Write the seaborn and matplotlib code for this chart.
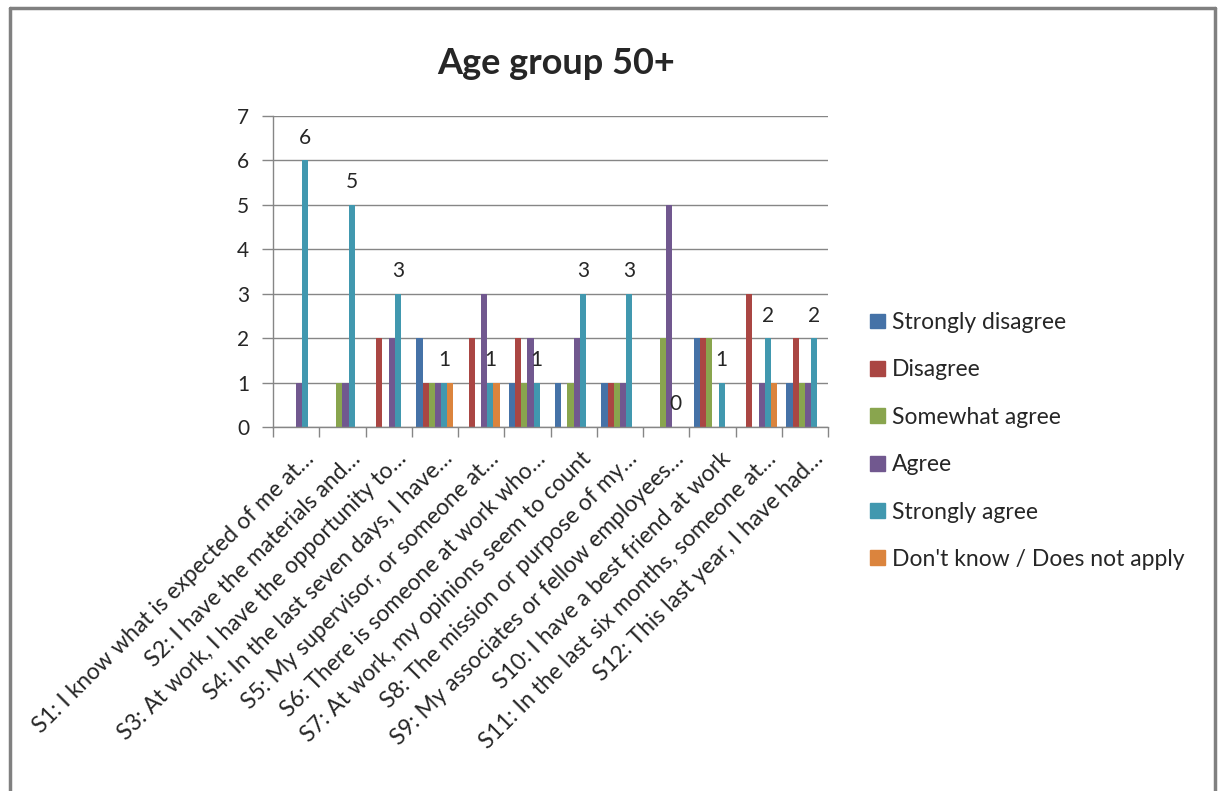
import matplotlib
matplotlib.use("Agg")
import matplotlib.pyplot as plt
import matplotlib.transforms as mtransforms
from matplotlib.lines import Line2D
import seaborn as sns
import pandas as pd

categories = [
    "S1: I know what is expected of me at…",
    "S2: I have the materials and…",
    "S3: At work, I have the opportunity to…",
    "S4: In the last seven days, I have…",
    "S5: My supervisor, or someone at…",
    "S6: There is someone at work who…",
    "S7: At work, my opinions seem to count",
    "S8: The mission or purpose of my…",
    "S9: My associates or fellow employees…",
    "S10: I have a best friend at work",
    "S11: In the last six months, someone at…",
    "S12: This last year, I have had…",
]
series_names = ["Strongly disagree", "Disagree", "Somewhat agree", "Agree",
                "Strongly agree", "Don't know / Does not apply"]
strongly_disagree = [0, 0, 0, 2, 0, 1, 1, 1, 0, 2, 0, 1]
disagree          = [0, 0, 2, 1, 2, 2, 0, 1, 0, 2, 3, 2]
somewhat_agree    = [0, 1, 0, 1, 0, 1, 1, 1, 2, 2, 0, 1]
agree             = [1, 1, 2, 1, 3, 2, 2, 1, 5, 0, 1, 1]
strongly_agree    = [6, 5, 3, 1, 1, 1, 3, 3, 0, 1, 2, 2]
dont_know         = [0, 0, 0, 1, 1, 0, 0, 0, 0, 0, 1, 0]
colors = ["#4572A7", "#AA4643", "#89A54E", "#71588F", "#4198AF", "#DB843D"]

values = [strongly_disagree, disagree, somewhat_agree, agree, strongly_agree, dont_know]
rows = []
for name, vals in zip(series_names, values):
    for cat, v in zip(categories, vals):
        rows.append({"Statement": cat, "Response": name, "Count": v})
df = pd.DataFrame(rows)

sns.set_style("white")
plt.rcParams["font.family"] = ["Lato", "DejaVu Sans"]

fig = plt.figure(figsize=(12.2, 7.91), dpi=100)
ax = fig.add_axes([273/1220, 1 - 427/791, (828 - 273)/1220, (427 - 116)/791])

sns.barplot(data=df, x="Statement", y="Count", hue="Response",
            order=categories, hue_order=series_names, palette=colors,
            width=0.8, gap=0, saturation=1, ax=ax, legend=False,
            errorbar=None, linewidth=0, edgecolor="none")

ax.set_ylim(0, 7)
ax.set_xlim(-0.5, len(categories) - 0.5)
ax.set_yticks(range(0, 8))
ax.yaxis.grid(True, color="#868686", linewidth=1.0)
ax.set_axisbelow(True)
for s in ["top", "right"]:
    ax.spines[s].set_visible(False)
for s in ["left", "bottom"]:
    ax.spines[s].set_color("#868686")
    ax.spines[s].set_linewidth(1.0)
ax.set_xlabel("")
ax.set_ylabel("")

ax.tick_params(axis="y", which="major", length=8, width=1, color="#868686",
               labelsize=15, pad=9, left=True)
ax.set_xticks(range(len(categories)))
ax.set_xticks([i - 0.5 for i in range(len(categories) + 1)], minor=True)
ax.tick_params(axis="x", which="major", length=0, pad=15, labelsize=16.5)
ax.tick_params(axis="x", which="minor", length=7, width=1, color="#868686",
               bottom=True)
ax.set_xticklabels(categories, rotation=45, ha="right", rotation_mode="anchor")
offset = mtransforms.ScaledTranslation(7/100, 0, fig.dpi_scale_trans)
for lab in ax.get_xticklabels():
    lab.set_transform(lab.get_transform() + offset)

# data labels on the "Strongly agree" series
teal = ax.containers[4]
ax.bar_label(teal, labels=[str(v) for v in strongly_agree], padding=9,
             fontsize=15)

ax.set_title("Age group 50+", fontsize=26, fontweight="bold", pad=0, y=1.0)
ax.title.set_position((0.51, 1.135))

handles = [plt.Rectangle((0, 0), 1, 1, color=c) for c in colors]
fig.legend(handles, series_names, loc="center left",
           bbox_to_anchor=(859/1220, 1 - 441/791), frameon=False,
           fontsize=16.5, handlelength=0.62, handleheight=0.62,
           handletextpad=0.3, labelspacing=1.15, borderpad=0)

# outer chart border
bc = "#808080"
fig.add_artist(Line2D([9.5/1220, 9.5/1220], [0, 1 - 8/791], transform=fig.transFigure,
                      color=bc, linewidth=2.5))
fig.add_artist(Line2D([9.5/1220, 1214.5/1220], [1 - 8/791, 1 - 8/791],
                      transform=fig.transFigure, color=bc, linewidth=2.5))
fig.add_artist(Line2D([1214.5/1220, 1214.5/1220], [0, 1 - 8/791],
                      transform=fig.transFigure, color=bc, linewidth=2.5))

fig.savefig("out.png", dpi=100)
